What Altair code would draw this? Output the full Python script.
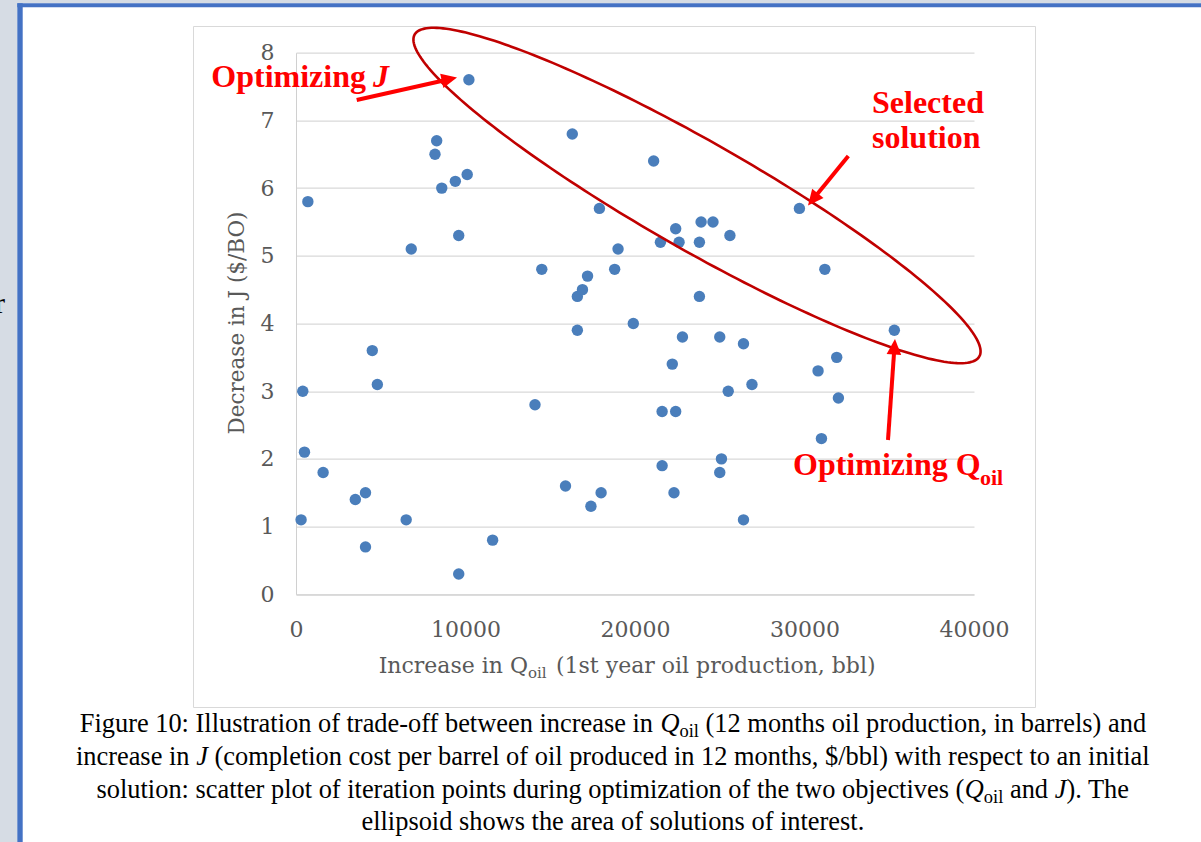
import math
import numpy as np
import pandas as pd
import altair as alt

# Iteration points: increase in Q_oil (bbl) vs decrease in J ($/BO)
q_oil = [300, 400, 500, 700, 1600, 3500, 4100, 4100, 4500, 4800,
         6500, 6800, 8200, 8300, 8600, 9400, 9600, 9600, 10100, 10200,
         11600, 14100, 14500, 15900, 16300, 16600, 16900, 17200, 16600, 17400,
         17900, 18000, 18800, 19000, 19900, 21100, 21500, 21600, 21600, 22200,
         22300, 22400, 22400, 22600, 22800, 23800, 23800, 23900, 24600, 25000,
         25000, 25100, 25500, 25600, 26400, 26400, 26900, 29700, 30800, 31000,
         31200, 31900, 32000, 35300]
dec_j = [1.1, 3.0, 2.1, 5.8, 1.8, 1.4, 1.5, 0.7, 3.6, 3.1,
         1.1, 5.1, 6.5, 6.7, 6.0, 6.1, 5.3, 0.3, 6.2, 7.6,
         0.8, 2.8, 4.8, 1.6, 6.8, 4.4, 4.5, 4.7, 3.9, 1.3,
         5.7, 1.5, 4.8, 5.1, 4.0, 6.4, 5.2, 2.7, 1.9, 3.4,
         1.5, 5.4, 2.7, 5.2, 3.8, 5.2, 4.4, 5.5, 5.5, 3.8,
         1.8, 2.0, 3.0, 5.3, 3.7, 1.1, 3.1, 5.7, 3.3, 2.3,
         4.8, 3.5, 2.9, 3.9]
x_ticks = [0, 10000, 20000, 30000, 40000]
y_ticks = [0, 1, 2, 3, 4, 5, 6, 7, 8]

# Page geometry: plot area placement inside the 1201x842 canvas
L, T, W, H = 296.0, 52.7, 678.0, 541.6
PAGE_W, PAGE_H = 1201, 842
XMAX, YMAX = 40000, 8


def dx(p):
    return (p - L) / W * XMAX


def dy(p):
    return (T + H - p) / H * YMAX


AXIS_FONT = "DejaVu Serif"
AXIS_GREY = "#595959"
GRID = "#d9d9d9"

X = alt.X("x:Q", scale=alt.Scale(domain=[0, XMAX], nice=False, zero=False),
          axis=alt.Axis(values=x_ticks, format="d", title=None, grid=False,
                        ticks=False, tickSize=0, domainColor="#d0d0d0",
                        labelFont=AXIS_FONT, labelFontSize=22,
                        labelColor=AXIS_GREY, labelPadding=25,
                        labelFlush=False))
Y = alt.Y("y:Q", scale=alt.Scale(domain=[0, YMAX], nice=False, zero=False),
          axis=alt.Axis(values=y_ticks, title=None, grid=True,
                        gridColor=GRID, gridWidth=1.3, ticks=False,
                        tickSize=0, domainColor="#d0d0d0",
                        labelFont=AXIS_FONT, labelFontSize=22,
                        labelColor=AXIS_GREY, labelPadding=22,
                        labelFlush=False))


def rects(rows, **kw):
    df = pd.DataFrame(rows, columns=["p0", "q0", "p1", "q1"])
    df["x"], df["x2"] = df.p0.map(dx), df.p1.map(dx)
    df["y"], df["y2"] = df.q0.map(dy), df.q1.map(dy)
    return alt.Chart(df).mark_rect(**kw).encode(
        x=X, x2="x2:Q", y=Y, y2="y2:Q")


def texts(rows, **kw):
    df = pd.DataFrame(rows, columns=["px", "py", "label"])
    df["x"], df["y"] = df.px.map(dx), df.py.map(dy)
    return alt.Chart(df).mark_text(**kw).encode(x=X, y=Y, text="label:N")


# ---- page furniture: grey margin, blue page border, chart frame ----
page_bg = rects([(-10, -10, 17.3, PAGE_H + 10), (-10, -10, PAGE_W + 10, 3.3)],
                color="#d6dce4")
page_border = rects([(17.3, 3.3, 22.7, PAGE_H + 10), (17.3, 3.3, PAGE_W + 10, 7.3)],
                    color="#4472c4")
frame = rects([(193.5, 26.5, 1035.5, 707.5)], filled=False,
              stroke="#d9d9d9", strokeWidth=1)
cut_glyph = texts([(-5, 313, "r")], font="Liberation Serif", fontSize=30,
                  color="black", align="left", baseline="alphabetic")

# ---- scatter ----
pts = pd.DataFrame({"x": q_oil, "y": dec_j})
scatter = alt.Chart(pts).mark_circle(size=130, color="#4a7ebb", opacity=1).encode(
    x=X, y=Y)

# ---- ellipse around the solutions of interest ----
cx, cy, ea, eb, th = 697.0, 195.5, 325.0, 54.0, math.radians(29.7)
t = np.linspace(0, 2 * np.pi, 241)
ex = cx + ea * np.cos(t) * math.cos(th) - eb * np.sin(t) * math.sin(th)
ey = cy + ea * np.cos(t) * math.sin(th) + eb * np.sin(t) * math.cos(th)
ell = pd.DataFrame({"x": [dx(v) for v in ex], "y": [dy(v) for v in ey],
                    "i": np.arange(len(t))})
ellipse = alt.Chart(ell).mark_line(color="#c00000", strokeWidth=2.6).encode(
    x=X, y=Y, order="i:Q")

# ---- arrows ----
arrow_defs = [((356.7, 100.0), (457.0, 77.5)),
              ((848.3, 156.0), (808.0, 205.5)),
              ((888.0, 440.0), (895.0, 339.0))]
shaft_rows, head_rows = [], []
for (sx, sy), (tx, ty) in arrow_defs:
    vx, vy = tx - sx, ty - sy
    n = math.hypot(vx, vy)
    ux, uy = vx / n, vy / n
    shaft_rows.append((sx, sy, tx - 8 * ux, ty - 8 * uy))
    ang = math.degrees(math.atan2(vx, -vy)) % 360
    head_rows.append((dx(tx), dy(ty), ang))
shafts = pd.DataFrame(shaft_rows, columns=["p0", "q0", "p1", "q1"])
shafts["x"], shafts["x2"] = shafts.p0.map(dx), shafts.p1.map(dx)
shafts["y"], shafts["y2"] = shafts.q0.map(dy), shafts.q1.map(dy)
arrow_shafts = alt.Chart(shafts).mark_rule(color="#ff0000", strokeWidth=4).encode(
    x=X, x2="x2:Q", y=Y, y2="y2:Q")
heads = pd.DataFrame(head_rows, columns=["x", "y", "ang"])
arrow_heads = alt.Chart(heads).mark_point(
    shape="M0,0L0.75,1.6L-0.75,1.6Z", filled=True, size=380,
    color="#ff0000", opacity=1).encode(
    x=X, y=Y, angle=alt.Angle("ang:Q", scale=None))

# ---- red annotation labels ----
ANN = dict(font="Liberation Serif", fontSize=32, fontWeight="bold",
           color="#ff0000", baseline="alphabetic")
ann_right = texts([(366, 87, "Optimizing")], align="right", **ANN)
ann_left = texts([(872, 113, "Selected"), (872, 148, "solution"),
                  (793, 475, "Optimizing Q")], align="left", **ANN)
ann_ital = texts([(373, 87, "J")], align="left", fontStyle="italic", **ANN)
ann_sub = texts([(980, 485, "oil")], align="left", font="Liberation Serif",
                fontSize=22, fontWeight="bold", color="#ff0000",
                baseline="alphabetic")

# ---- axis titles ----
TITLE = dict(font=AXIS_FONT, fontSize=22, color=AXIS_GREY,
             baseline="alphabetic")
xt_left = texts([(503, 673, "Increase in")], align="right", **TITLE)
xt_q = texts([(510, 673, "Q")], align="left", **TITLE)
xt_sub = texts([(528, 678, "oil")], align="left", font=AXIS_FONT, fontSize=15,
               color=AXIS_GREY, baseline="alphabetic")
xt_right = texts([(556, 673, "(1st year oil production, bbl)")], align="left",
                 **TITLE)
yt = texts([(238, 323, "Decrease in J ($/BO)")], align="center",
           baseline="middle", angle=270, font=AXIS_FONT, fontSize=21.5,
           color=AXIS_GREY)

# ---- figure caption (Times metrics, laid out segment by segment) ----
TIMES = {" ": 250, "$": 500, "(": 333, ")": 333, ",": 250, "-": 333, ".": 250,
         "/": 278, ":": 278, "0": 500, "1": 500, "2": 500,
         "F": 556, "I": 333, "T": 611, "Q": 722, "J": 389,
         "a": 444, "b": 500, "c": 444, "d": 500, "e": 444, "f": 333, "g": 500,
         "h": 500, "i": 278, "j": 278, "k": 500, "l": 278, "m": 778, "n": 500,
         "o": 500, "p": 500, "q": 500, "r": 333, "s": 389, "t": 278, "u": 500,
         "v": 500, "w": 722, "x": 500, "y": 500, "z": 444}
TIMES_IT = dict(TIMES, Q=722, J=444)
CAP = 26.4
SUB = 0.7


def width(s, style):
    table = TIMES_IT if style == "i" else TIMES
    k = SUB if style == "sub" else 1.0
    return sum(table[c] for c in s) / 1000.0 * CAP * k


caption = [
    [("Figure 10: Illustration of trade-off between increase in ", "n"),
     ("Q", "i"), ("oil", "sub"),
     (" (12 months oil production, in barrels) and", "n")],
    [("increase in ", "n"), ("J", "i"),
     (" (completion cost per barrel of oil produced in 12 months, $/bbl) "
      "with respect to an initial", "n")],
    [("solution: scatter plot of iteration points during optimization of the "
      "two objectives (", "n"), ("Q", "i"), ("oil", "sub"), (" and ", "n"),
     ("J", "i"), ("). The", "n")],
    [("ellipsoid shows the area of solutions of interest.", "n")],
]
baselines = [732, 765, 798, 830]
CENTER = 613
cap_rows = {"n": [], "i": [], "sub": []}
for segs, base in zip(caption, baselines):
    total = sum(width(s, st) for s, st in segs)
    xpos = CENTER - total / 2
    for s, st in segs:
        lead = len(s) - len(s.lstrip(" "))
        body = s.strip(" ")
        off = width(" " * lead, "n")
        cap_rows[st].append((xpos + off, base + (5 if st == "sub" else 0), body))
        xpos += width(s, st)

CAPF = dict(font="Liberation Serif", color="black", align="left",
            baseline="alphabetic")
cap_n = texts(cap_rows["n"], fontSize=CAP, **CAPF)
cap_i = texts(cap_rows["i"], fontSize=CAP, fontStyle="italic", **CAPF)
cap_s = texts(cap_rows["sub"], fontSize=CAP * SUB, **CAPF)

chart = alt.layer(
    page_bg, page_border, frame, cut_glyph,
    scatter, ellipse, arrow_shafts, arrow_heads,
    ann_right, ann_left, ann_ital, ann_sub,
    xt_left, xt_q, xt_sub, xt_right, yt,
    cap_n, cap_i, cap_s,
).properties(
    width=W, height=H,
    autosize=alt.AutoSizeParams(type="none"),
    padding={"left": L, "top": T, "right": PAGE_W - L - W,
             "bottom": PAGE_H - T - H},
    background="white",
).configure_view(strokeWidth=0)

chart.save("out.html", embed_options={"renderer": "svg", "actions": False})
